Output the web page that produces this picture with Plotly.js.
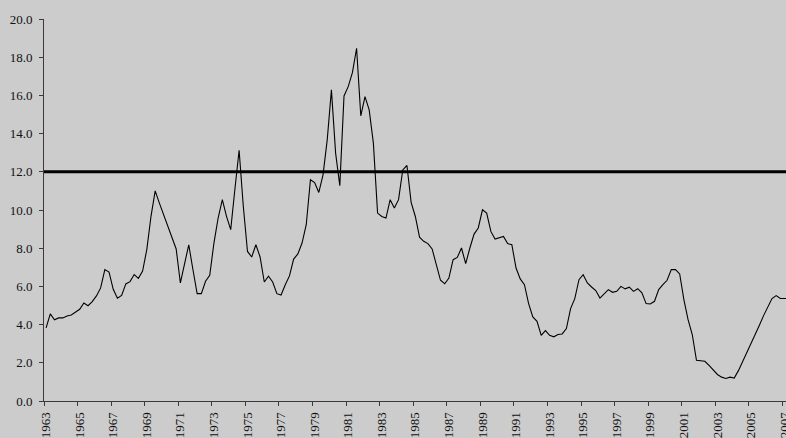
<!DOCTYPE html>
<html>
<head>
<meta charset="utf-8">
<script src="https://cdn.plot.ly/plotly-3.0.1.min.js"></script>
<style>
  html, body { margin: 0; padding: 0; background: #cccccc; }
  #chart { width: 786px; height: 438px; }
</style>
</head>
<body>
<div id="chart"></div>
<script>
// Quarterly rate, 1963 Q1 onward (one value per quarter)
const rateValues = [
  3.83, 4.56, 4.25, 4.35, 4.35, 4.45, 4.50, 4.65,   // 1963-64
  4.80, 5.13, 4.99, 5.20, 5.50, 5.92, 6.88, 6.75,   // 1965-66
  5.85, 5.38, 5.53, 6.13, 6.25, 6.62, 6.42, 6.80,   // 1967-68
  7.93, 9.67, 11.00, 10.36, 9.76, 9.17, 8.53, 7.96, // 1969-70
  6.18, 7.13, 8.18, 6.87, 5.62, 5.62, 6.27, 6.58,   // 1971-72
  8.27, 9.58, 10.54, 9.67, 8.97, 11.10, 13.13, 10.20, // 1973-74
  7.83, 7.54, 8.18, 7.54, 6.23, 6.53, 6.23, 5.62,   // 1975-76
  5.55, 6.09, 6.55, 7.43, 7.70, 8.27, 9.23, 11.58,  // 1977-78
  11.44, 10.92, 11.84, 13.67, 16.29, 12.98, 11.27, 15.97, // 1979-80
  16.46, 17.19, 18.47, 14.93, 15.94, 15.24, 13.50, 9.84,  // 1981-82
  9.66, 9.58, 10.54, 10.10, 10.54, 12.10, 12.33, 10.40,   // 1983-84
  9.66, 8.58, 8.36, 8.24, 7.96, 7.14, 6.32, 6.14,   // 1985-86
  6.44, 7.40, 7.52, 8.01, 7.19, 8.01, 8.74, 9.06,   // 1987-88
  10.01, 9.84, 8.88, 8.48, 8.53, 8.62, 8.24, 8.18,  // 1989-90
  6.96, 6.39, 6.09, 5.10, 4.40, 4.17, 3.44, 3.69,   // 1991-92
  3.44, 3.36, 3.48, 3.51, 3.79, 4.84, 5.36, 6.35,   // 1993-94
  6.61, 6.18, 5.97, 5.78, 5.39, 5.62, 5.83, 5.69,   // 1995-96
  5.74, 6.00, 5.87, 5.96, 5.74, 5.88, 5.66, 5.10,   // 1997-98
  5.08, 5.22, 5.83, 6.09, 6.32, 6.88, 6.88, 6.65,   // 1999-2000
  5.31, 4.26, 3.48, 2.13, 2.12, 2.08, 1.86, 1.61,   // 2001-02
  1.39, 1.25, 1.18, 1.25, 1.20, 1.59, 2.05, 2.52,   // 2003-04
  3.01, 3.48, 3.97, 4.47, 4.93, 5.36, 5.52, 5.37,   // 2005-06
  5.37, 5.37                                        // 2007
];

const firstYear = 1963;
const thresholdLevel = 12.0;
const yearTicks = [];
for (let y = 1963; y <= 2007; y += 2) yearTicks.push(y);
const yearTickText = yearTicks.map(String);

// each quarter sits in the middle of its quarter-year slot
const quarterPos = rateValues.map((_, i) => firstYear + (i + 0.5) / 4);

const axisColor = '#3a3a3a';
const serif = '"Liberation Serif", "Times New Roman", serif';

const traces = [{
  x: quarterPos,
  y: rateValues,
  type: 'scatter',
  mode: 'lines',
  line: { color: '#000000', width: 1.1 },
  hoverinfo: 'skip',
  showlegend: false
}];

const layout = {
  width: 786,
  height: 438,
  paper_bgcolor: '#cccccc',
  plot_bgcolor: '#cccccc',
  margin: { l: 44, r: 0, t: 19, b: 36.5, pad: 0 },
  showlegend: false,
  xaxis: {
    range: [1963, 2007.21],
    tickmode: 'array',
    tickvals: yearTicks,
    ticktext: yearTickText,
    tickangle: -90,
    ticks: 'outside',
    ticklen: 4,
    tickwidth: 1,
    tickcolor: axisColor,
    showline: true,
    linecolor: axisColor,
    linewidth: 1,
    showgrid: false,
    zeroline: false,
    tickfont: { family: serif, size: 13, color: '#111111' },
    ticklabeloverflow: 'allow',
    ticklabelshift: 2,
    ticklabelstandoff: 1,
    fixedrange: true
  },
  yaxis: {
    range: [0, 20],
    tickmode: 'linear',
    tick0: 0,
    dtick: 2,
    tickformat: '.1f',
    ticks: 'outside',
    ticklen: 4,
    tickwidth: 1,
    tickcolor: axisColor,
    showline: true,
    linecolor: axisColor,
    linewidth: 1,
    showgrid: false,
    zeroline: false,
    tickfont: { family: serif, size: 13, color: '#111111' },
    ticklabelstandoff: 4,
    fixedrange: true
  },
  shapes: [{
    type: 'line',
    xref: 'paper', x0: 0, x1: 1,
    yref: 'y', y0: thresholdLevel, y1: thresholdLevel,
    line: { color: '#000000', width: 3 },
    layer: 'above'
  }]
};

Plotly.newPlot('chart', traces, layout, { staticPlot: true, displayModeBar: false });
</script>
</body>
</html>
